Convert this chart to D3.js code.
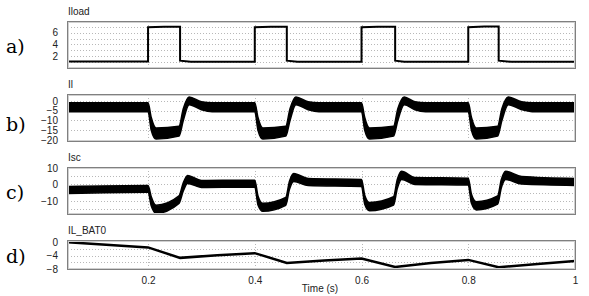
<!DOCTYPE html>
<html>
<head>
<meta charset="utf-8">
<script src="https://cdn.jsdelivr.net/npm/d3@7"></script>
<style>
  body { margin: 0; background: #fff; }
  svg { display: block; font-family: "Liberation Sans", Arial, sans-serif; }
</style>
</head>
<body>
<svg id="chart" width="589" height="296"></svg>
<script>
// time ticks shared by all panels
const timeTicks = [0.2, 0.4, 0.6, 0.8, 1];

// a) load current, step line [t, value]
const iload = [
  [0.05, 1.1], [0.2, 1.1], [0.2, 6.9], [0.23, 7.0], [0.26, 7.0], [0.26, 1.25], [0.28, 1.05],
  [0.4, 1.05], [0.4, 6.9], [0.43, 7.0], [0.46, 7.0], [0.46, 1.25], [0.48, 1.05],
  [0.6, 1.05], [0.6, 6.9], [0.63, 7.0], [0.663, 7.0], [0.663, 1.25], [0.68, 1.05],
  [0.8, 1.05], [0.8, 6.9], [0.83, 7.05], [0.857, 7.05], [0.857, 1.25], [0.88, 1.05],
  [1.0, 1.05]
];

// b) Il ripple band [t, low, high]
const il = [
  [0.05, -5.5, -1.0], [0.2, -5.5, -1.0], [0.206, -15.0, -8.5], [0.215, -19.5, -13.8], [0.258, -18.0, -13.0],
  [0.266, -10.0, -4.0], [0.277, -2.0, 2.0], [0.3, -4.5, -0.5], [0.32, -5.5, -1.0],
  [0.4, -5.5, -1.0], [0.406, -15.0, -8.5], [0.415, -19.5, -13.8], [0.458, -18.0, -13.0],
  [0.466, -10.0, -4.0], [0.477, -2.0, 2.0], [0.5, -4.5, -0.5], [0.52, -5.5, -1.0],
  [0.6, -5.5, -1.0], [0.606, -15.0, -8.5], [0.615, -19.5, -13.8], [0.66, -18.0, -13.0],
  [0.668, -10.0, -4.0], [0.68, -2.0, 2.0], [0.7, -4.5, -0.5], [0.72, -5.5, -1.0],
  [0.8, -5.5, -1.0], [0.806, -15.0, -8.5], [0.815, -19.5, -13.8], [0.855, -18.0, -13.0],
  [0.863, -10.0, -4.0], [0.875, -2.0, 2.0], [0.9, -4.5, -0.5], [0.92, -5.5, -1.0],
  [1.0, -5.5, -1.0]
];

// c) Isc ripple band [t, low, high]
const isc = [
  [0.05, -5.5, -1.2], [0.2, -4.8, -0.6], [0.206, -13.0, -7.5], [0.215, -17.5, -12.7], [0.258, -11.5, -7.0],
  [0.266, -4.0, 1.0], [0.274, 0.6, 5.5], [0.3, -1.8, 2.4], [0.4, -1.6, 2.6],
  [0.406, -12.5, -7.0], [0.415, -16.4, -11.5], [0.458, -12.7, -7.9], [0.465, -3.0, 2.0],
  [0.473, 1.8, 6.7], [0.5, -0.6, 3.6], [0.6, -1.2, 3.0],
  [0.606, -12.0, -6.5], [0.615, -16.0, -11.0], [0.66, -12.5, -7.5], [0.667, -2.5, 3.0],
  [0.675, 3.0, 8.0], [0.7, 0.0, 4.2], [0.8, -0.4, 3.8],
  [0.806, -11.5, -6.0], [0.815, -15.5, -10.5], [0.855, -12.0, -7.0], [0.862, -2.0, 3.0],
  [0.87, 3.0, 8.0], [0.9, 0.2, 4.8], [1.0, -0.6, 3.6]
];

// d) battery current [t, value]
const ilBat = [
  [0.05, -0.1], [0.2, -1.6], [0.26, -4.7], [0.33, -3.9], [0.4, -3.3],
  [0.46, -6.2], [0.53, -5.5], [0.6, -4.9], [0.663, -7.4], [0.73, -6.2],
  [0.8, -5.3], [0.857, -7.5], [0.93, -6.5], [1.0, -5.6]
];

const svg = d3.select("#chart");
const x = d3.scaleLinear().domain([0.05, 1]).range([68, 575]);

const panels = [
  { tag: "a)", tagY: 53, name: "Iload", top: 22, bottom: 68, domain: [0, 7.8],
    ticks: [2, 4, 6], grid: [1, 2, 3, 4, 5, 6, 7] },
  { tag: "b)", tagY: 131, name: "Il", top: 95, bottom: 141, domain: [-20.5, 3],
    ticks: [0, -5, -10, -15, -20], grid: [0, -5, -10, -15] },
  { tag: "c)", tagY: 199, name: "Isc", top: 168, bottom: 214, domain: [-18, 10],
    ticks: [10, 0, -10], grid: [5, 0, -5, -10, -15] },
  { tag: "d)", tagY: 263, name: "IL_BAT0", top: 241, bottom: 269, domain: [-8, 0.3],
    ticks: [0, -4, -8], grid: [-2, -4, -6] }
];

panels.forEach(p => {
  p.y = d3.scaleLinear().domain(p.domain).range([p.bottom, p.top]);
  const g = svg.append("g");

  // panel letter
  svg.append("text")
    .attr("x", 6).attr("y", p.tagY)
    .attr("font-family", "'DejaVu Serif', 'Liberation Serif', serif")
    .attr("font-size", 19)
    .text(p.tag);

  // signal name
  g.append("text")
    .attr("x", 68).attr("y", p.top - 7)
    .attr("font-size", 10).attr("fill", "#222")
    .text(p.name);

  // dotted grid
  g.selectAll(".hg").data(p.grid).join("line")
    .attr("x1", 68).attr("x2", 575)
    .attr("y1", d => Math.round(p.y(d)) + 0.5).attr("y2", d => Math.round(p.y(d)) + 0.5)
    .attr("stroke", "#b8b8b8").attr("stroke-dasharray", "1,2");
  g.selectAll(".vg").data(timeTicks.slice(0, 4)).join("line")
    .attr("x1", d => Math.round(x(d)) + 0.5).attr("x2", d => Math.round(x(d)) + 0.5)
    .attr("y1", p.top).attr("y2", p.bottom)
    .attr("stroke", "#b8b8b8").attr("stroke-dasharray", "1,2");

  // y axis labels
  const ax = d3.axisLeft(p.y).tickValues(p.ticks).tickSize(0).tickPadding(10);
  const axg = g.append("g").attr("transform", "translate(68,0)").call(ax);
  axg.select(".domain").remove();
  axg.selectAll("text").attr("font-size", 10).attr("fill", "#222")
    .attr("font-family", "'Liberation Sans', Arial, sans-serif");

  p.g = g;
});

// a) step line
const pa = panels[0];
pa.g.append("path")
  .datum(iload)
  .attr("fill", "none").attr("stroke", "#000").attr("stroke-width", 2)
  .attr("d", d3.line().x(d => x(d[0])).y(d => pa.y(d[1])));

// b), c) ripple bands
[[panels[1], il], [panels[2], isc]].forEach(([p, data]) => {
  p.g.append("path")
    .datum(data)
    .attr("fill", "#000").attr("stroke", "#000").attr("stroke-width", 1.5)
    .attr("stroke-linejoin", "round")
    .attr("d", d3.area().curve(d3.curveMonotoneX)
      .x(d => x(d[0])).y0(d => p.y(d[1])).y1(d => p.y(d[2])));
});

// d) battery line
const pd = panels[3];
pd.g.append("path")
  .datum(ilBat)
  .attr("fill", "none").attr("stroke", "#000").attr("stroke-width", 2.5)
  .attr("d", d3.line().x(d => x(d[0])).y(d => pd.y(d[1])));

// frames
panels.forEach(p => {
  p.g.append("rect")
    .attr("x", 67.5).attr("y", p.top - 0.5)
    .attr("width", 575 - 67).attr("height", p.bottom - p.top + 1)
    .attr("fill", "none").attr("stroke", "#808080");
  p.g.append("rect")
    .attr("x", 68.5).attr("y", p.top + 0.5)
    .attr("width", 575 - 69).attr("height", p.bottom - p.top - 1)
    .attr("fill", "none").attr("stroke", "#d0d0d0");
});

// time axis
const xa = d3.axisBottom(x).tickValues(timeTicks).tickSize(0).tickPadding(7)
  .tickFormat(d3.format("~g"));
const xg = svg.append("g").attr("transform", "translate(0,270)").call(xa);
xg.select(".domain").remove();
xg.selectAll("text").attr("font-size", 10).attr("fill", "#222")
  .attr("font-family", "'Liberation Sans', Arial, sans-serif");

svg.append("text")
  .attr("x", 320).attr("y", 292)
  .attr("text-anchor", "middle")
  .attr("font-size", 10).attr("fill", "#222")
  .text("Time (s)");
</script>
</body>
</html>
